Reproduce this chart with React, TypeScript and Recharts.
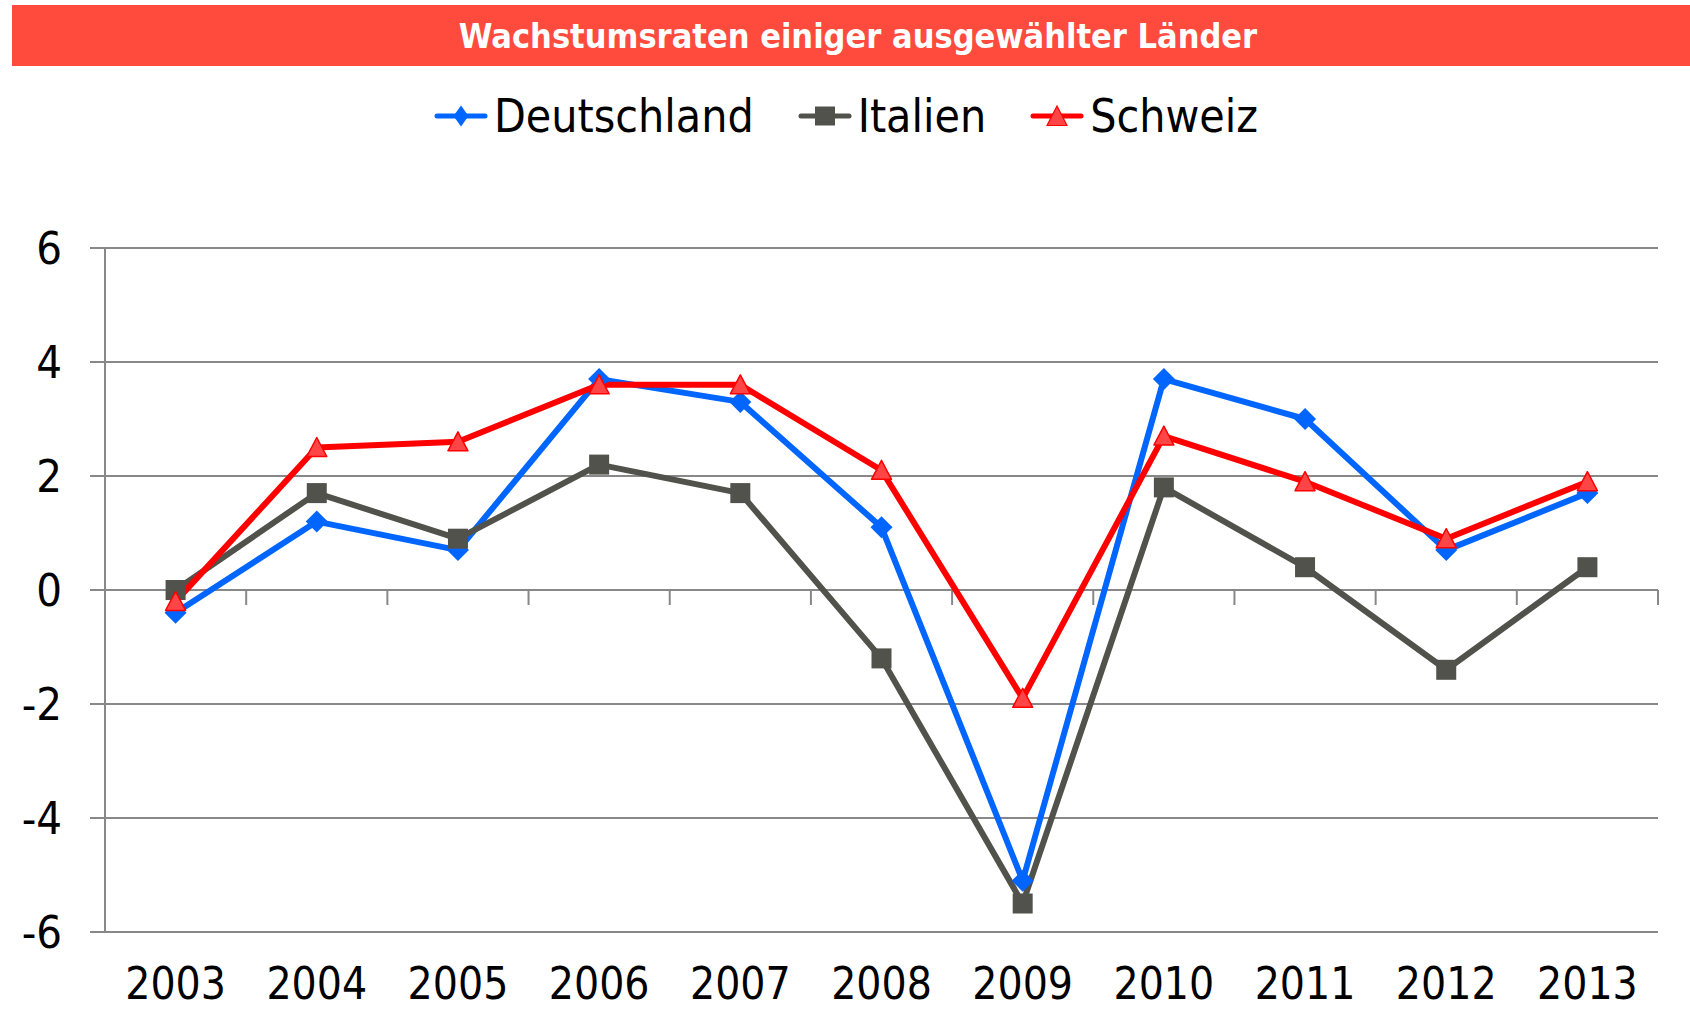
import React from 'react';
import { LineChart, Line, XAxis, YAxis, CartesianGrid, Legend, ReferenceLine } from 'recharts';

const years = [2003, 2004, 2005, 2006, 2007, 2008, 2009, 2010, 2011, 2012, 2013];
const deutschland = [-0.4, 1.2, 0.7, 3.7, 3.3, 1.1, -5.1, 3.7, 3.0, 0.7, 1.7];
const italien = [0.0, 1.7, 0.9, 2.2, 1.7, -1.2, -5.5, 1.8, 0.4, -1.4, 0.4];
const schweiz = [-0.2, 2.5, 2.6, 3.6, 3.6, 2.1, -1.9, 2.7, 1.9, 0.9, 1.9];
const yTicks = [-6, -4, -2, 0, 2, 4, 6];
const seriesNames = ['Deutschland', 'Italien', 'Schweiz'];
const title = 'Wachstumsraten einiger ausgewählter Länder';

const data = years.map((y, i) => ({
  year: y,
  de: deutschland[i],
  it: italien[i],
  ch: schweiz[i],
}));
const boundaries = years.map((y) => y + 0.5);

const FONT = '"DejaVu Sans Condensed", "DejaVu Sans", sans-serif';
const BLUE = '#0066FF';
const GRAY = '#52524C';
const RED = '#FF0000';
const TRI = '#FF4545';
const GRID = '#888888';

const Diamond = (p: any) => {
  const { cx, cy } = p;
  if (cx == null || cy == null) return <g key={p.key} />;
  return <path key={p.key} d={`M${cx},${cy - 11}L${cx + 11},${cy}L${cx},${cy + 11}L${cx - 11},${cy}Z`} fill={BLUE} />;
};
const Square = (p: any) => {
  const { cx, cy } = p;
  if (cx == null || cy == null) return <g key={p.key} />;
  return <rect key={p.key} x={cx - 10} y={cy - 10} width={20} height={20} fill={GRAY} />;
};
const Triangle = (p: any) => {
  const { cx, cy } = p;
  if (cx == null || cy == null) return <g key={p.key} />;
  return (
    <path
      key={p.key}
      d={`M${cx},${cy - 10}L${cx + 10},${cy + 9}L${cx - 10},${cy + 9}Z`}
      fill={TRI}
      stroke={RED}
      strokeWidth={1.5}
      strokeLinejoin="round"
    />
  );
};

const LegendIcon = ({ idx }: { idx: number }) => {
  const color = [BLUE, GRAY, RED][idx];
  return (
    <svg width={54} height={26} style={{ display: 'block', marginRight: 6 }}>
      <line x1={3} y1={13} x2={51} y2={13} stroke={color} strokeWidth={5} strokeLinecap="round" />
      {idx === 0 && <path d="M27,2.5L34.5,13L27,23.5L19.5,13Z" fill={BLUE} />}
      {idx === 1 && <rect x={17} y={3.5} width={20} height={19} fill={GRAY} />}
      {idx === 2 && <path d="M27,3L37,22.5L17,22.5Z" fill={TRI} stroke={RED} strokeWidth={1.2} />}
    </svg>
  );
};

const renderLegend = () => (
  <div style={{ height: 162, width: 1690 }}>
    <div
      style={{
        height: 60,
        display: 'flex',
        alignItems: 'center',
        justifyContent: 'center',
        fontFamily: FONT,
        fontStretch: 'condensed',
        fontSize: 46,
        color: '#000',
        paddingLeft: 2,
      }}
    >
      {seriesNames.map((n, i) => (
        <div key={n} style={{ display: 'flex', alignItems: 'center', marginLeft: i === 0 ? 0 : 44 }}>
          <LegendIcon idx={i} />
          <span style={{ lineHeight: '60px' }}>{n}</span>
        </div>
      ))}
    </div>
  </div>
);

const tickShape = (p: any) => (
  <line x1={p.x1} y1={p.y1} x2={p.x1} y2={p.y1 + 15} stroke={GRID} strokeWidth={2} />
);

export default function App() {
  return (
    <div style={{ position: 'absolute', left: 0, top: 0, width: 1690, height: 1012, background: '#fff' }}>
      <div
        style={{
          position: 'absolute',
          left: 12,
          top: 5,
          width: 1678,
          height: 61,
          background: '#FF4A3E',
          display: 'flex',
          alignItems: 'center',
          justifyContent: 'center',
          color: '#fff',
          fontFamily: FONT,
          fontStretch: 'condensed',
          fontWeight: 'bold',
          fontSize: 34,
          paddingLeft: 14,
          boxSizing: 'border-box',
        }}
      >
        {title}
      </div>
      <div style={{ position: 'absolute', left: 0, top: 0 }}>
        <LineChart width={1690} height={1012} data={data} margin={{ top: 86, right: 32, bottom: 0, left: 0 }}>
          <Legend verticalAlign="top" content={renderLegend} wrapperStyle={{ left: 0, width: 1690 }} />
          <CartesianGrid horizontal vertical={false} stroke={GRID} strokeWidth={2} />
          <XAxis
            dataKey="year"
            type="number"
            domain={[2002.5, 2013.5]}
            ticks={years}
            interval={0}
            axisLine={false}
            tickLine={false}
            tickSize={0}
            tickMargin={36}
            height={80}
            tick={{ fill: '#000', fontSize: 44, fontFamily: FONT, fontStretch: 'condensed' } as any}
          />
          <YAxis
            type="number"
            domain={[-6, 6]}
            ticks={yTicks}
            interval={0}
            width={105}
            axisLine={{ stroke: GRID, strokeWidth: 2 }}
            tickLine={{ stroke: GRID, strokeWidth: 2 }}
            tickSize={15}
            tickMargin={28}
            tick={{ fill: '#000', fontSize: 45, fontFamily: FONT, fontStretch: 'condensed' } as any}
          />
          {boundaries.map((b) => (
            <ReferenceLine
              key={b}
              segment={[{ x: b, y: 0 }, { x: b, y: 0 }]}
              shape={tickShape}
              ifOverflow="visible"
            />
          ))}
          <Line
            dataKey="de"
            name={seriesNames[0]}
            stroke={BLUE}
            strokeWidth={6}
            strokeLinejoin="round"
            dot={Diamond}
            activeDot={false}
            isAnimationActive={false}
          />
          <Line
            dataKey="it"
            name={seriesNames[1]}
            stroke={GRAY}
            strokeWidth={6}
            strokeLinejoin="round"
            dot={Square}
            activeDot={false}
            isAnimationActive={false}
          />
          <Line
            dataKey="ch"
            name={seriesNames[2]}
            stroke={RED}
            strokeWidth={6}
            strokeLinejoin="round"
            dot={Triangle}
            activeDot={false}
            isAnimationActive={false}
          />
        </LineChart>
      </div>
    </div>
  );
}
